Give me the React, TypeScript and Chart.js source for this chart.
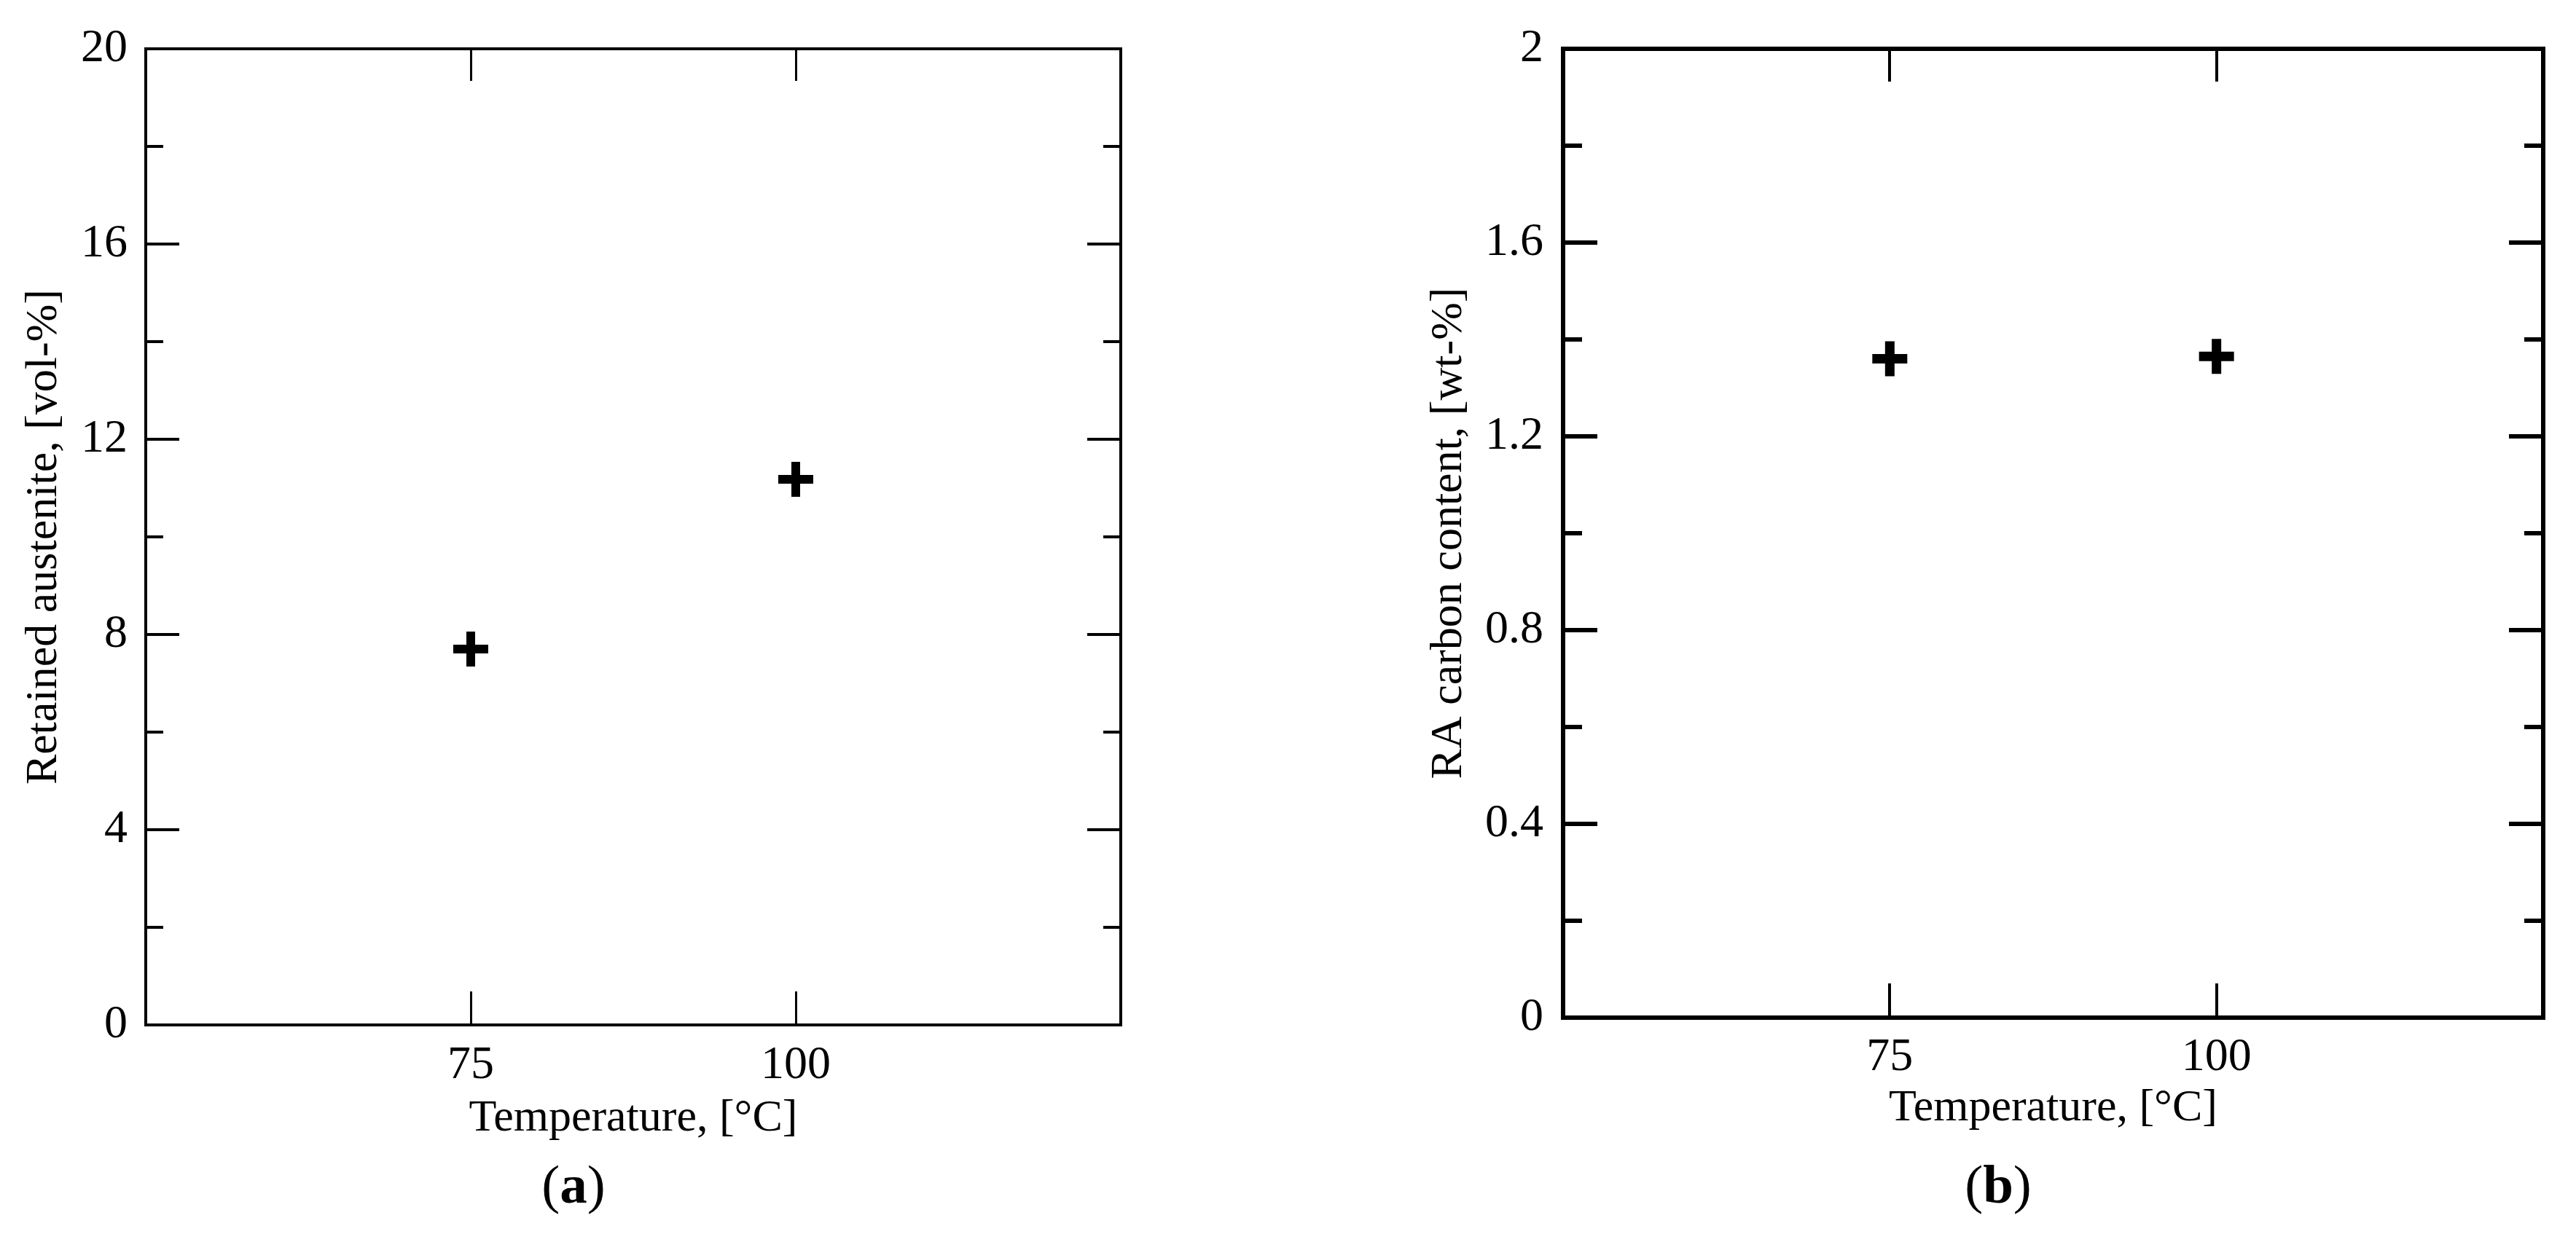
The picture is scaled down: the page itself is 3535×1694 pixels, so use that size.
import React, { useEffect, useRef } from 'react';
import { Chart, registerables } from 'chart.js';

Chart.register(...registerables);

// ---- data ----
const temperatures = [75, 100];
const retainedAustenite = [7.7, 11.18];
const raCarbonContent = [1.36, 1.365];
const xTickValues = [75, 100];
const xMin = 50;
const xMax = 125;
const austeniteMin = 0;
const austeniteMax = 20;
const austeniteMajorStep = 4;
const austeniteMinorStep = 2;
const carbonMin = 0;
const carbonMax = 2;
const carbonMajorStep = 0.4;
const carbonMinorStep = 0.2;
const xTitle = 'Temperature, [°C]';
const austeniteTitle = 'Retained austenite, [vol-%]';
const carbonTitle = 'RA carbon content, [wt-%]';

const SERIF = "'Liberation Serif', 'Times New Roman', Times, serif";

type PanelSpec = {
  width: number;
  height: number;
  yAxisWidth: number;
  xAxisHeight: number;
  padTop: number;
  padRight: number;
  yValues: number[];
  yMin: number;
  yMax: number;
  yMajor: number;
  yMinor: number;
  yTitle: string;
  yTitlePad: number;
  yTickPad: number;
  xTickPad: number;
  xTitlePad: number;
  borderW: number;
  yTickW: number;
  xTickW: number;
  majorLen: number;
  minorLen: number;
  markerW: number;
};

function fmt(v: any) {
  return String(Math.round(Number(v) * 1000) / 1000);
}

function fixVertical(width: number) {
  return (sc: any) => {
    sc.width = width;
    sc.paddingTop = 0;
    sc.paddingBottom = 0;
  };
}

function fixHorizontal(height: number) {
  return (sc: any) => {
    sc.height = height;
    sc.paddingLeft = 0;
    sc.paddingRight = 0;
  };
}

function buildConfig(s: PanelSpec): any {
  const tickFont = { family: SERIF, size: 64 };
  const titleFont = { family: SERIF, size: 62 };
  const setXTicks = (scale: any) => {
    scale.ticks = xTickValues.map((v) => ({ value: v }));
  };
  const gridY = (len: number) => ({
    drawOnChartArea: false,
    drawTicks: true,
    tickLength: -len,
    tickWidth: s.yTickW,
    tickColor: '#000',
    color: '#000',
    lineWidth: s.yTickW,
  });
  const gridX = (len: number) => ({
    drawOnChartArea: false,
    drawTicks: true,
    tickLength: -len,
    tickWidth: s.xTickW,
    tickColor: '#000',
    color: '#000',
    lineWidth: s.xTickW,
  });
  const border = { display: true, color: '#000', width: s.borderW };
  const noBorder = { display: false };
  return {
    type: 'scatter',
    data: {
      datasets: [
        {
          data: temperatures.map((t, i) => ({ x: t, y: s.yValues[i] })),
          pointStyle: 'cross',
          pointRadius: 24,
          pointHoverRadius: 24,
          pointBorderWidth: s.markerW,
          pointHoverBorderWidth: s.markerW,
          borderColor: '#000',
          backgroundColor: '#000',
          showLine: false,
          xAxisID: 'x',
          yAxisID: 'y',
        },
      ],
    },
    options: {
      responsive: false,
      animation: false,
      devicePixelRatio: 1,
      events: [],
      layout: { padding: { top: s.padTop, right: s.padRight, left: 0, bottom: 0 } },
      plugins: { legend: { display: false }, tooltip: { enabled: false }, title: { display: false } },
      scales: {
        x: {
          type: 'linear',
          position: 'bottom',
          min: xMin,
          max: xMax,
          afterBuildTicks: setXTicks,
          afterFit: fixHorizontal(s.xAxisHeight),
          grid: gridX(s.majorLen),
          border,
          ticks: {
            font: tickFont,
            color: '#000',
            padding: s.xTickPad,
            maxRotation: 0,
            autoSkip: false,
            callback: (v: any) => fmt(v),
          },
          title: {
            display: true,
            text: xTitle,
            font: titleFont,
            color: '#000',
            padding: { top: 0, bottom: s.xTitlePad },
          },
        },
        xTop: {
          type: 'linear',
          position: 'top',
          min: xMin,
          max: xMax,
          afterBuildTicks: setXTicks,
          afterFit: fixHorizontal(0),
          grid: gridX(s.majorLen - 2),
          border,
          ticks: { display: false },
        },
        y: {
          type: 'linear',
          position: 'left',
          weight: 1,
          min: s.yMin,
          max: s.yMax,
          afterFit: fixVertical(s.yAxisWidth),
          grid: gridY(s.majorLen),
          border,
          ticks: {
            stepSize: s.yMajor,
            maxTicksLimit: 100,
            font: tickFont,
            color: '#000',
            padding: s.yTickPad,
            callback: (v: any) => fmt(v),
          },
          title: {
            display: true,
            text: s.yTitle,
            font: titleFont,
            color: '#000',
            padding: { top: s.yTitlePad, bottom: 0 },
          },
        },
        yMinorL: {
          type: 'linear',
          position: 'left',
          weight: 0,
          min: s.yMin,
          max: s.yMax,
          afterFit: fixVertical(0),
          grid: gridY(s.minorLen),
          border: noBorder,
          ticks: { display: false, stepSize: s.yMinor, maxTicksLimit: 100 },
        },
        yR: {
          type: 'linear',
          position: 'right',
          weight: 0,
          min: s.yMin,
          max: s.yMax,
          afterFit: fixVertical(0),
          grid: gridY(s.majorLen),
          border,
          ticks: { display: false, stepSize: s.yMajor, maxTicksLimit: 100 },
        },
        yMinorR: {
          type: 'linear',
          position: 'right',
          weight: 1,
          min: s.yMin,
          max: s.yMax,
          afterFit: fixVertical(0),
          grid: gridY(s.minorLen),
          border: noBorder,
          ticks: { display: false, stepSize: s.yMinor, maxTicksLimit: 100 },
        },
      },
    },
  };
}

function Panel({ spec, left }: { spec: PanelSpec; left: number }) {
  const ref = useRef<HTMLCanvasElement | null>(null);
  useEffect(() => {
    if (!ref.current) return;
    const chart = new Chart(ref.current, buildConfig(spec));
    return () => chart.destroy();
  }, [spec]);
  return (
    <canvas
      ref={ref}
      width={spec.width}
      height={spec.height}
      style={{ position: 'absolute', left, top: 0, width: spec.width, height: spec.height, display: 'block' }}
    />
  );
}

const specA: PanelSpec = {
  width: 1700,
  height: 1600,
  yAxisWidth: 200,
  xAxisHeight: 193,
  padTop: 67,
  padRight: 162,
  yValues: retainedAustenite,
  yMin: austeniteMin,
  yMax: austeniteMax,
  yMajor: austeniteMajorStep,
  yMinor: austeniteMinorStep,
  yTitle: austeniteTitle,
  yTitlePad: 24,
  yTickPad: 71,
  xTickPad: 64,
  xTitlePad: 27,
  borderW: 4,
  yTickW: 4,
  xTickW: 3,
  majorLen: 46,
  minorLen: 24,
  markerW: 12,
};

const specB: PanelSpec = {
  width: 1635,
  height: 1600,
  yAxisWidth: 245,
  xAxisHeight: 203,
  padTop: 67,
  padRight: 45,
  yValues: raCarbonContent,
  yMin: carbonMin,
  yMax: carbonMax,
  yMajor: carbonMajorStep,
  yMinor: carbonMinorStep,
  yTitle: carbonTitle,
  yTitlePad: 52,
  yTickPad: 74,
  xTickPad: 64,
  xTitlePad: 41,
  borderW: 6,
  yTickW: 6,
  xTickW: 4,
  majorLen: 47,
  minorLen: 26,
  markerW: 13,
};

const captionStyle = (centerX: number): React.CSSProperties => ({
  position: 'absolute',
  left: centerX - 200,
  top: 1588,
  width: 400,
  textAlign: 'center',
  fontFamily: SERIF,
  fontSize: 75,
  lineHeight: '75px',
  color: '#000',
});

export default function App() {
  return (
    <div
      style={{
        position: 'absolute',
        left: 0,
        top: 0,
        width: 3535,
        height: 1694,
        background: '#fff',
        overflow: 'hidden',
      }}
    >
      <Panel spec={specA} left={0} />
      <Panel spec={specB} left={1900} />
      <div style={captionStyle(787)}>
        (<b>a</b>)
      </div>
      <div style={captionStyle(2742)}>
        (<b>b</b>)
      </div>
    </div>
  );
}
